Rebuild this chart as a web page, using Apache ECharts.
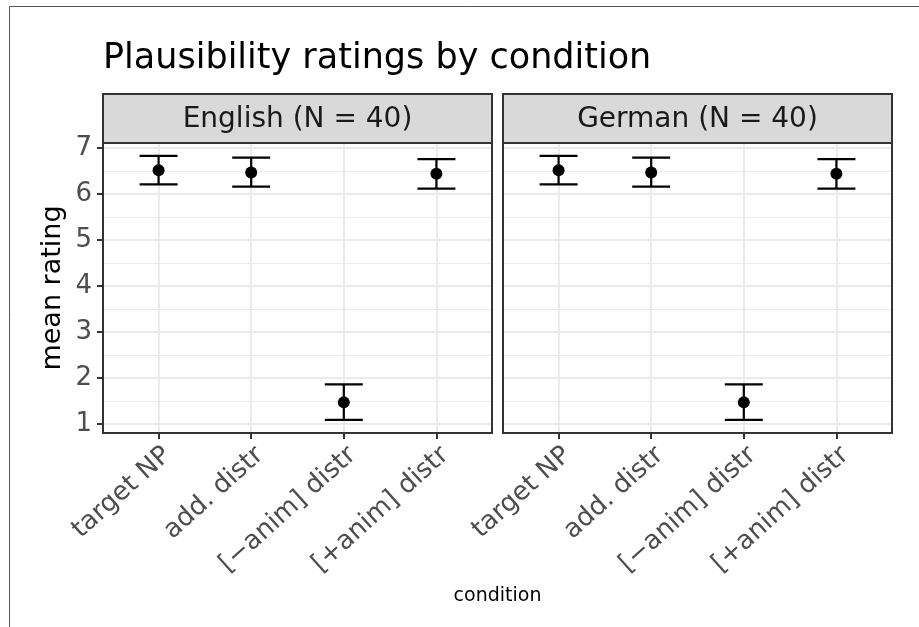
<!DOCTYPE html>
<html><head><meta charset="utf-8">
<script src="https://cdn.jsdelivr.net/npm/echarts@6/dist/echarts.min.js"></script>
<style>html,body{margin:0;padding:0;background:#fff}#c{width:919px;height:627px}</style>
</head><body><div id="c"></div>
<script>
// ---- data ----
const panelLabels = ['English (N = 40)', 'German (N = 40)'];
const conditions = ['target NP', 'add. distr', '[\u2212anim] distr', '[+anim] distr'];
const yTicks = [1, 2, 3, 4, 5, 6, 7];
const yMinorTicks = [1.5, 2.5, 3.5, 4.5, 5.5, 6.5];
const englishMean = [6.52, 6.47, 1.47, 6.44];
const englishLow  = [6.21, 6.16, 1.09, 6.12];
const englishHigh = [6.83, 6.79, 1.86, 6.76];
const germanMean = [6.52, 6.47, 1.47, 6.44];
const germanLow  = [6.21, 6.16, 1.09, 6.12];
const germanHigh = [6.83, 6.79, 1.86, 6.76];

const FONT = "'DejaVu Sans'";
const panelsData = [
  {mean: englishMean, low: englishLow, high: englishHigh},
  {mean: germanMean, low: germanLow, high: germanHigh}
];
const gridDefs = [{left: 103, top: 143, width: 389, height: 290}, {left: 503, top: 143, width: 389, height: 290}];
const catPos = conditions.map((c, i) => i + 1);
const Y_MIN = 0.804, Y_MAX = 7.11;

const grids = [], xAxes = [], yAxes = [], series = [], graphics = [];
gridDefs.forEach((g, p) => {
  grids.push({left: g.left, top: g.top, width: g.width, height: g.height, show: true, backgroundColor: '#fff', borderWidth: 0});
  xAxes.push({
    type: 'value', gridIndex: p, min: 0.4, max: 4.6,
    axisLine: {show: false},
    axisTick: {show: true, customValues: catPos, length: 6, lineStyle: {color: '#333', width: 2}},
    axisLabel: {show: true, customValues: catPos, formatter: v => conditions[Math.round(v) - 1],
      rotate: 42, align: 'right', verticalAlign: 'top', margin: 9,
      fontSize: 26, color: '#4d4d4d', fontFamily: FONT},
    splitLine: {show: true, lineStyle: {color: '#ebebeb', width: 2}}
  });
  yAxes.push({
    type: 'value', gridIndex: p, min: Y_MIN, max: Y_MAX,
    axisLine: {show: false},
    axisTick: {show: p === 0, customValues: yTicks, length: 6, lineStyle: {color: '#333', width: 2}},
    axisLabel: {show: p === 0, customValues: yTicks, margin: 11, fontSize: 26, color: '#4d4d4d', fontFamily: FONT},
    splitLine: {show: true, lineStyle: {color: '#ebebeb', width: 2}},
    name: p === 0 ? 'mean rating' : '', nameLocation: 'middle', nameRotate: 90, nameGap: 37,
    nameTextStyle: {fontSize: 27, color: '#000', fontFamily: FONT}
  });
});
gridDefs.forEach((g, p) => {
  yAxes.push({
    type: 'value', gridIndex: p, min: Y_MIN, max: Y_MAX, position: 'left',
    axisLine: {show: false},
    axisTick: {show: false, customValues: yMinorTicks},
    axisLabel: {show: false, customValues: yMinorTicks},
    splitLine: {show: true, lineStyle: {color: '#ebebeb', width: 1}}
  });
});

function renderErr(params, api) {
  const x = api.value(0), lo = api.value(1), hi = api.value(2);
  const a = api.coord([x, lo]), b = api.coord([x, hi]);
  const l1 = api.coord([x - 0.205, lo]), r1 = api.coord([x + 0.205, lo]);
  const l2 = api.coord([x - 0.205, hi]), r2 = api.coord([x + 0.205, hi]);
  const st = {stroke: '#000', lineWidth: 2.2};
  return {type: 'group', children: [
    {type: 'line', shape: {x1: a[0], y1: a[1], x2: b[0], y2: b[1]}, style: st},
    {type: 'line', shape: {x1: l1[0], y1: l1[1], x2: r1[0], y2: r1[1]}, style: st},
    {type: 'line', shape: {x1: l2[0], y1: l2[1], x2: r2[0], y2: r2[1]}, style: st}
  ]};
}

panelsData.forEach((d, p) => {
  series.push({
    type: 'custom', xAxisIndex: p, yAxisIndex: p, renderItem: renderErr,
    encode: {x: 0, y: [1, 2]}, z: 3,
    data: catPos.map((x, i) => [x, d.low[i], d.high[i]])
  });
  series.push({
    type: 'scatter', xAxisIndex: p, yAxisIndex: p, symbol: 'circle', symbolSize: 12,
    itemStyle: {color: '#000', opacity: 1}, z: 4,
    data: catPos.map((x, i) => [x, d.mean[i]])
  });
});

// outer border
graphics.push({type: 'rect', shape: {x: 9.5, y: 6.5, width: 2000, height: 2000}, style: {fill: 'none', stroke: '#555', lineWidth: 1}, z: 1});
gridDefs.forEach((g, p) => {
  graphics.push({type: 'rect', shape: {x: g.left, y: 94, width: g.width, height: g.top - 94},
    style: {fill: '#d9d9d9', stroke: '#333', lineWidth: 2}, z: 10});
  graphics.push({type: 'text', x: g.left + g.width / 2, y: 119.5,
    style: {text: panelLabels[p], fontSize: 28, fontFamily: FONT, fill: '#1a1a1a', align: 'center', verticalAlign: 'middle'}, z: 11});
  graphics.push({type: 'rect', shape: {x: g.left, y: g.top, width: g.width, height: g.height},
    style: {fill: 'none', stroke: '#333', lineWidth: 2}, z: 10});
});
graphics.push({type: 'text', x: 103, y: 59,
  style: {text: 'Plausibility ratings by condition', fontSize: 35, fontFamily: FONT, fill: '#000', align: 'left', verticalAlign: 'middle'}, z: 11});
graphics.push({type: 'text', x: 497.5, y: 596.5,
  style: {text: 'condition', fontSize: 19, fontFamily: FONT, fill: '#000', align: 'center', verticalAlign: 'middle'}, z: 11});

const chart = echarts.init(document.getElementById('c'), null, {renderer: 'canvas'});
chart.setOption({
  animation: false,
  backgroundColor: '#fff',
  grid: grids, xAxis: xAxes, yAxis: yAxes, series: series,
  graphic: {elements: graphics}
});
</script></body></html>
